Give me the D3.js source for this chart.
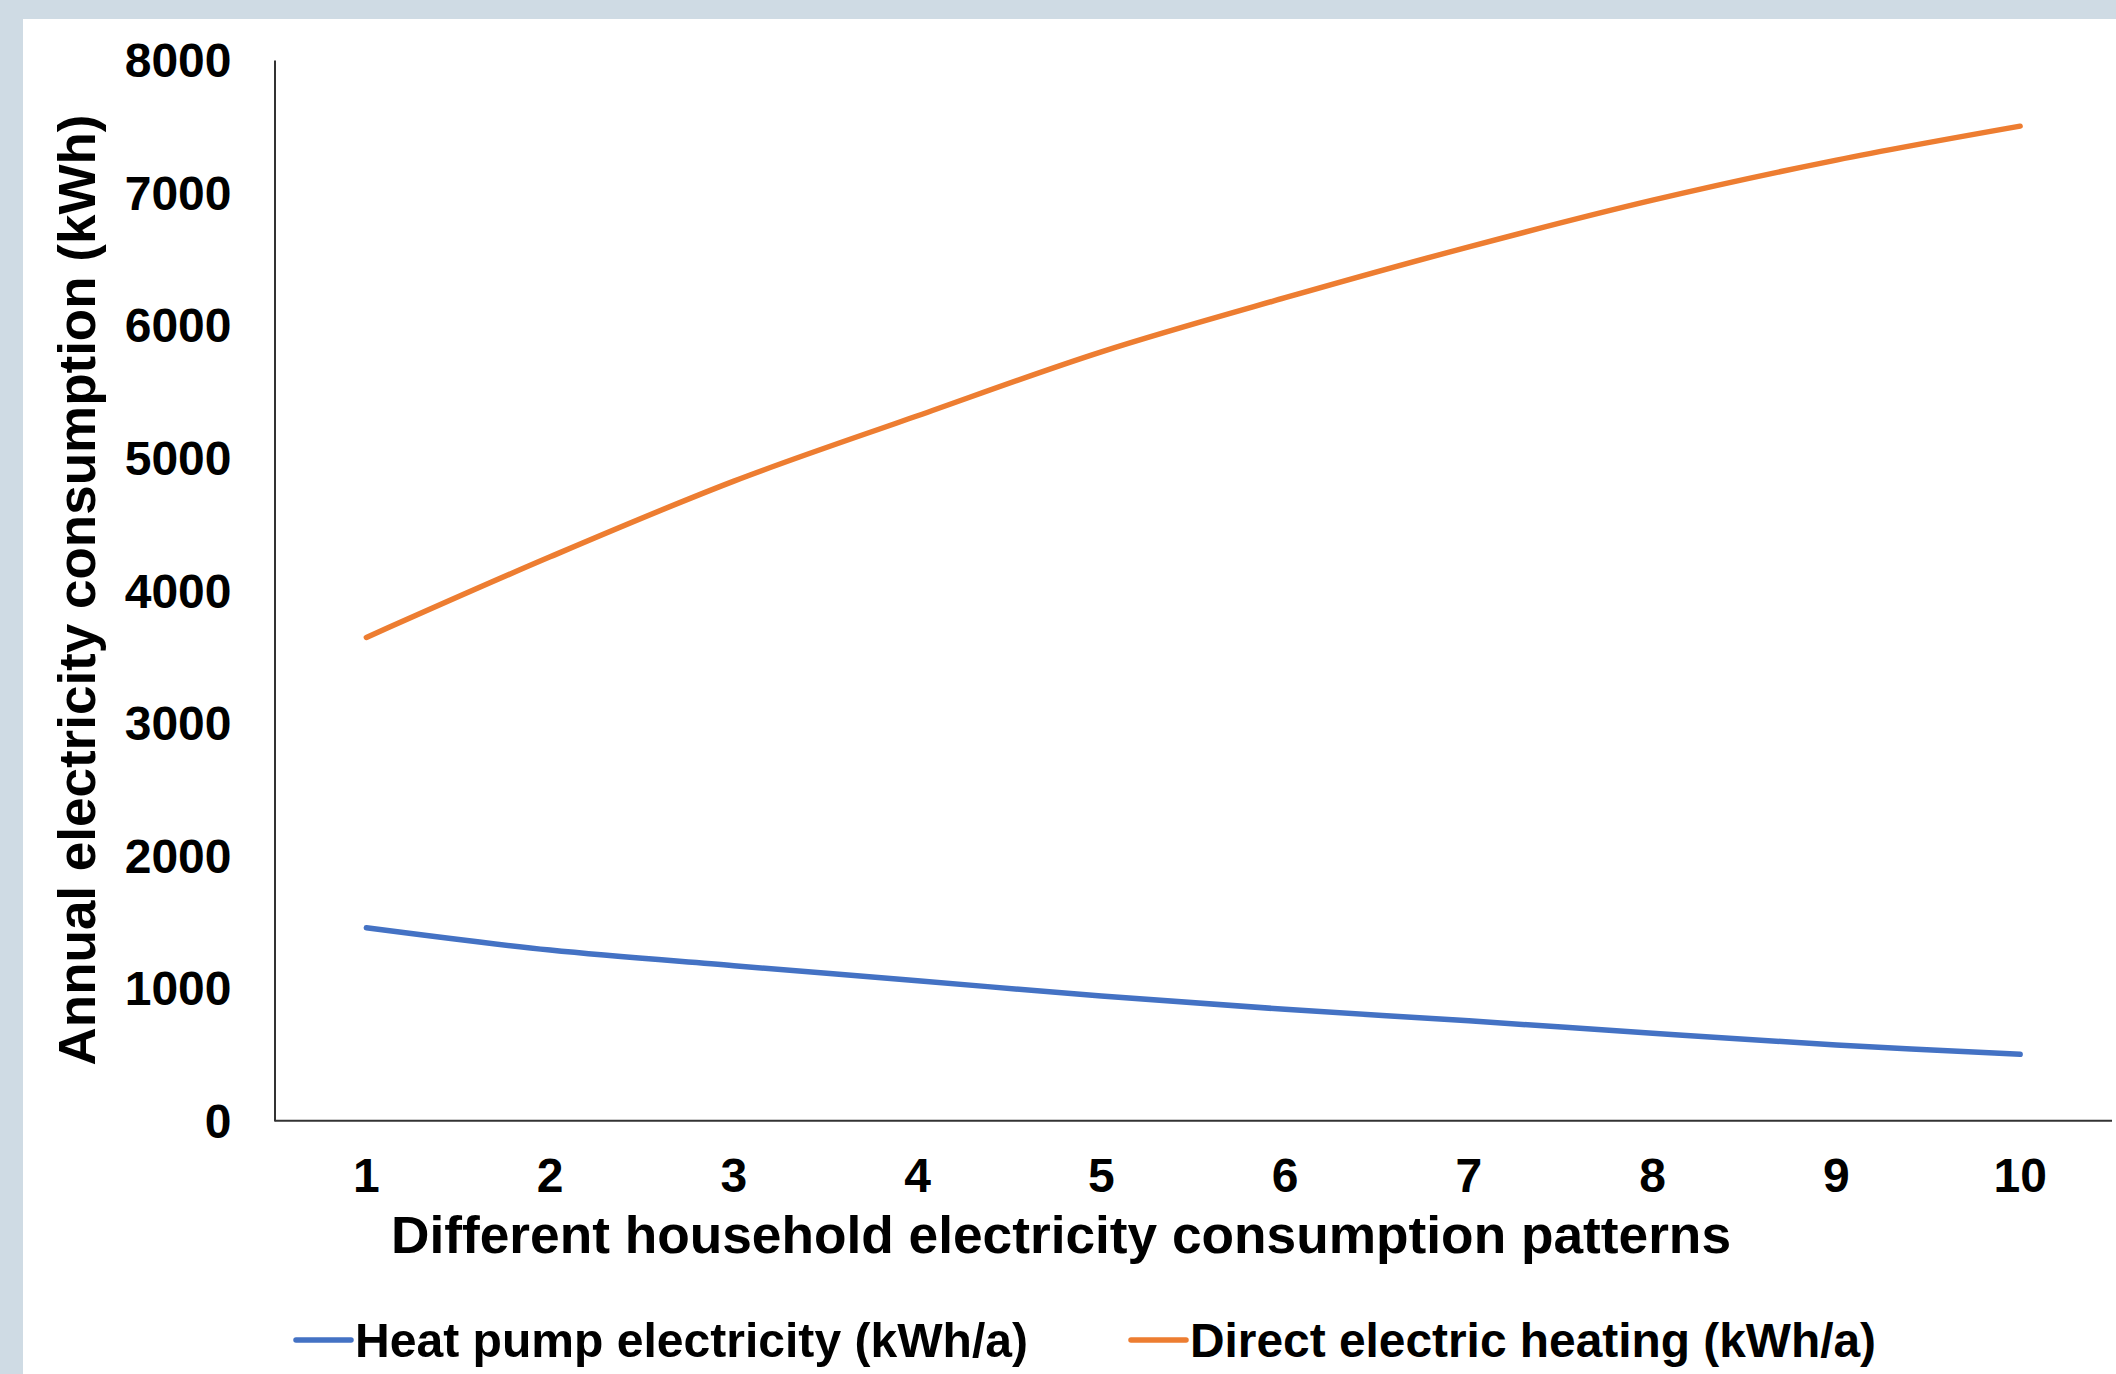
<!DOCTYPE html>
<html>
<head>
<meta charset="utf-8">
<script src="https://cdn.jsdelivr.net/npm/d3@7/dist/d3.min.js"></script>
<style>
  html, body { margin: 0; padding: 0; background: #ffffff; }
  svg { display: block; }
  text { font-family: "Liberation Sans", Arial, Helvetica, sans-serif; font-weight: bold; fill: #000; }
</style>
</head>
<body>
<svg id="chart" width="2116" height="1374"></svg>
<script>
const categories = [1, 2, 3, 4, 5, 6, 7, 8, 9, 10];
const heatPump = [1455, 1287, 1169, 1056, 940, 840, 754, 659, 571, 501];
const directElectric = [3645, 4253, 4824, 5317, 5799, 6207, 6591, 6943, 7245, 7501];
const yTicks = [0, 1000, 2000, 3000, 4000, 5000, 6000, 7000, 8000];
const seriesNames = ["Heat pump electricity (kWh/a)", "Direct electric heating (kWh/a)"];
const seriesColors = ["#4472C4", "#ED7D31"];
const xTitle = "Different household electricity consumption patterns";
const yTitle = "Annual electricity consumption (kWh)";

const W = 2116, H = 1374;
const svg = d3.select("#chart");

// frame bands
svg.append("rect").attr("x", 0).attr("y", 0).attr("width", W).attr("height", 19).attr("fill", "#cfdbe4");
svg.append("rect").attr("x", 0).attr("y", 0).attr("width", 23).attr("height", H).attr("fill", "#cfdbe4");

const plot = { left: 274.5, right: 2112, top: 60, bottom: 1120.7 };

const x = d3.scaleBand().domain(categories).range([plot.left, plot.right]).padding(0);
const y = d3.scaleLinear().domain([0, 8000]).range([plot.bottom, plot.top]);
const cx = d => x(d) + x.bandwidth() / 2;

// Y axis
const yAxis = svg.append("g").attr("transform", `translate(${plot.left},0)`)
  .call(d3.axisLeft(y).tickValues(yTicks).tickSize(0).tickPadding(43).tickFormat(d3.format("d")));
yAxis.select(".domain").attr("stroke", "#333").attr("stroke-width", 2);
yAxis.selectAll("text").attr("font-size", 48).attr("dy", "0.35em")
  .style("font-family", '"Liberation Sans", Arial, sans-serif').style("font-weight", "bold");

// X axis
const xAxis = svg.append("g").attr("transform", `translate(0,${plot.bottom})`)
  .call(d3.axisBottom(x).tickSize(0).tickPadding(37));
xAxis.select(".domain").attr("stroke", "#333").attr("stroke-width", 2).attr("d", `M${plot.left},0H${plot.right}`);
xAxis.selectAll("text").attr("font-size", 48).attr("dy", "0.71em")
  .style("font-family", '"Liberation Sans", Arial, sans-serif').style("font-weight", "bold");

// lines
const series = [heatPump, directElectric];
const line = d3.line()
  .x((d, i) => cx(categories[i]))
  .y(d => y(d))
  .curve(d3.curveCatmullRom.alpha(0.5));

series.forEach((vals, k) => {
  svg.append("path")
    .datum(vals)
    .attr("d", line)
    .attr("fill", "none")
    .attr("stroke", seriesColors[k])
    .attr("stroke-width", 5.5)
    .attr("stroke-linecap", "round")
    .attr("stroke-linejoin", "round");
});

// axis titles
svg.append("text")
  .attr("x", 1061).attr("y", 1253)
  .attr("text-anchor", "middle")
  .attr("font-size", 51)
  .attr("textLength", 1340)
  .attr("lengthAdjust", "spacingAndGlyphs")
  .text(xTitle);

svg.append("text")
  .attr("transform", "translate(95,590) rotate(-90)")
  .attr("text-anchor", "middle")
  .attr("font-size", 51)
  .attr("textLength", 951)
  .attr("lengthAdjust", "spacingAndGlyphs")
  .text(yTitle);

// legend
const legendX = [296, 1131];
const legendLen = [673, 686];
seriesNames.forEach((name, k) => {
  const g = svg.append("g").attr("transform", `translate(${legendX[k]},1340)`);
  g.append("line").attr("x1", 0).attr("x2", 55).attr("y1", 0).attr("y2", 0)
    .attr("stroke", seriesColors[k]).attr("stroke-width", 5.5).attr("stroke-linecap", "round");
  g.append("text").attr("x", 59).attr("y", 0).attr("dy", "0.35em")
    .attr("font-size", 48)
    .attr("textLength", legendLen[k])
    .attr("lengthAdjust", "spacingAndGlyphs")
    .text(name);
});
</script>
</body>
</html>
